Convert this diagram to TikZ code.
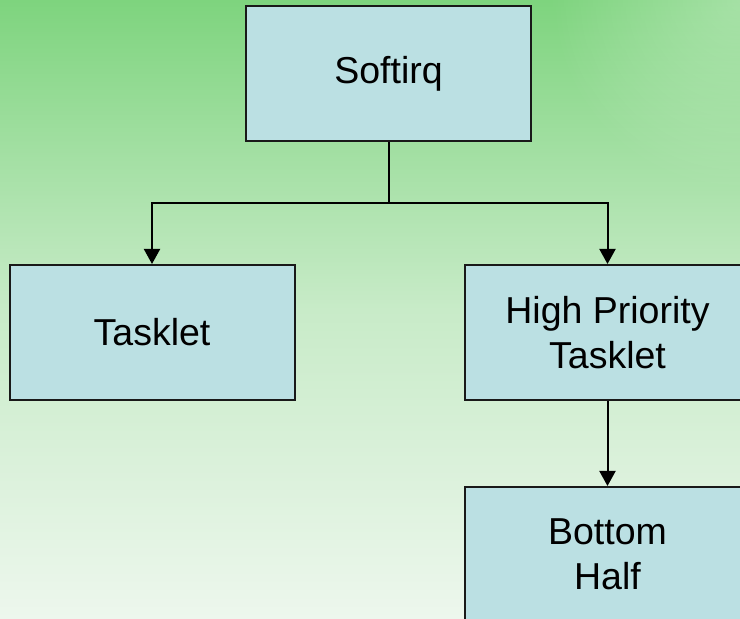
\documentclass[tikz,border=0pt]{standalone}
\usepackage{fontspec}
\setmainfont{Liberation Sans}
\usetikzlibrary{arrows.meta,fadings}

\definecolor{bgtop}{RGB}{126,212,126}
\definecolor{bgmid}{RGB}{200,235,200}
\definecolor{bgbot}{RGB}{237,247,237}
\definecolor{boxfill}{RGB}{187,224,227}

\tikzfading[name=cornerfade, inner color=transparent!0, outer color=transparent!100]

\tikzset{
	irqbox/.style={rectangle, draw=black!90, line width=1pt, fill=boxfill,
		minimum width=142.5pt, minimum height=67.5pt, align=center,
		font=\fontsize{18.75}{22.5}\selectfont},
	link/.style={line width=1pt, draw=black},
	arr/.style={link, -{Triangle[width=8pt,length=7.5pt]}}
}

\begin{document}
\begin{tikzpicture}[x=1pt, y=1pt]
	\useasboundingbox (0,0) rectangle (370,309.5);
	\clip (0,0) rectangle (370,309.5);

	% Background
	\shade[top color=bgtop, bottom color=bgbot, middle color=bgmid] (0,0) rectangle (370,309.5);
	\fill[white, fill opacity=0.3, path fading=cornerfade] (370,309.5) circle (95);

	% Define the nodes with specific positions
	\node[irqbox] (softirq) at (194.25, 272.5) {Softirq};
	\node[irqbox] (tasklet) at (76, 143.25) {Tasklet};
	\node[irqbox] (hitasklet) at (303.75, 143.25) {High Priority\\Tasklet};
	\node[irqbox] (bottom) at (303.75, 32.25) {Bottom\\Half};
	\coordinate (split) at (194.25, 208);

	% Draw the connectors between nodes
	\draw[link] (softirq) -- (split);
	\draw[arr] (split) -| (tasklet);
	\draw[arr] (split) -| (hitasklet);
	\draw[arr] (hitasklet) -- (bottom);
\end{tikzpicture}
\end{document}
